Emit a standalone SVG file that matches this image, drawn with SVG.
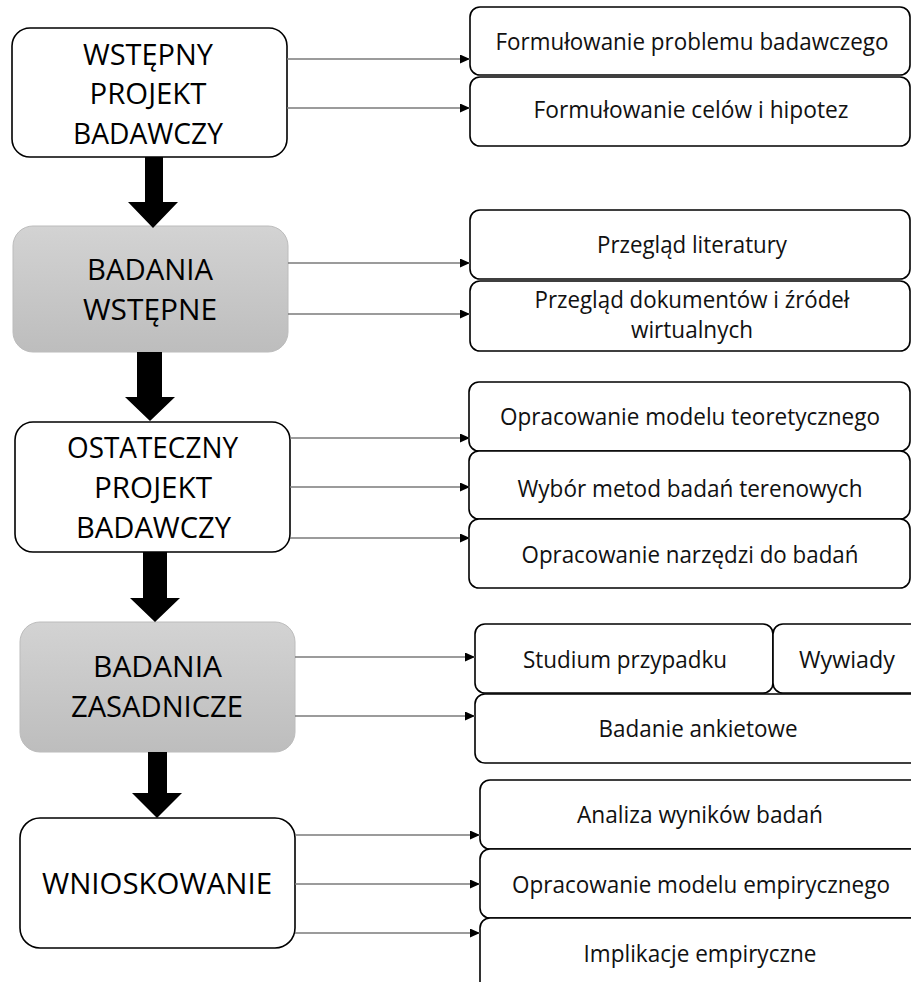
<svg xmlns="http://www.w3.org/2000/svg" width="911" height="982" viewBox="0 0 911 982">
  <defs>
    <linearGradient id="grayFill" x1="0" y1="0" x2="0" y2="1">
      <stop offset="0" stop-color="#d3d3d3"/>
      <stop offset="1" stop-color="#bdbdbd"/>
    </linearGradient>
    <marker id="head" markerUnits="userSpaceOnUse" markerWidth="11" markerHeight="10" refX="10" refY="4.5" orient="auto">
      <path d="M0,0 L10,4.5 L0,9 z" fill="#000"/>
    </marker>
    <style>
      .stage { fill: #fff; stroke: #000; stroke-width: 1.6; }
      .stage-gray { fill: url(#grayFill); stroke: #bcbcbc; stroke-width: 1; }
      .task { fill: #fff; stroke: #000; stroke-width: 1.6; }
      .big { font-family: "Open Sans", Lato, "Liberation Sans", sans-serif; font-size: 30px; fill: #000; text-anchor: middle; }
      .small { font-family: "Open Sans", Lato, "Liberation Sans", sans-serif; font-size: 23px; fill: #111; text-anchor: middle; }
      .link { stroke: #7a7a7a; stroke-width: 1.6; fill: none; marker-end: url(#head); }
      .flow { fill: #000; }
    </style>
  </defs>

  <!-- stages on the left -->
  <g id="stage-wstepny">
    <rect class="stage" x="12" y="28" width="275" height="129" rx="18"/>
    <text class="big" x="148" y="65" textLength="130" lengthAdjust="spacingAndGlyphs">WSTĘPNY</text>
    <text class="big" x="148" y="104" textLength="117" lengthAdjust="spacingAndGlyphs">PROJEKT</text>
    <text class="big" x="148" y="144" textLength="150" lengthAdjust="spacingAndGlyphs">BADAWCZY</text>
  </g>
  <g id="stage-badania-wstepne">
    <rect class="stage-gray" x="13" y="226" width="275" height="126" rx="20"/>
    <text class="big" x="150" y="280" textLength="126" lengthAdjust="spacingAndGlyphs">BADANIA</text>
    <text class="big" x="150" y="320" textLength="134" lengthAdjust="spacingAndGlyphs">WSTĘPNE</text>
  </g>
  <g id="stage-ostateczny">
    <rect class="stage" x="15" y="422" width="275" height="130" rx="18"/>
    <text class="big" x="152.5" y="458" textLength="171" lengthAdjust="spacingAndGlyphs">OSTATECZNY</text>
    <text class="big" x="153" y="498" textLength="118" lengthAdjust="spacingAndGlyphs">PROJEKT</text>
    <text class="big" x="153.5" y="538" textLength="155" lengthAdjust="spacingAndGlyphs">BADAWCZY</text>
  </g>
  <g id="stage-badania-zasadnicze">
    <rect class="stage-gray" x="20" y="622" width="275" height="130" rx="20"/>
    <text class="big" x="157.5" y="677" textLength="129" lengthAdjust="spacingAndGlyphs">BADANIA</text>
    <text class="big" x="157" y="717" textLength="172" lengthAdjust="spacingAndGlyphs">ZASADNICZE</text>
  </g>
  <g id="stage-wnioskowanie">
    <rect class="stage" x="20" y="818" width="275" height="130" rx="20"/>
    <text class="big" x="157" y="894" textLength="230" lengthAdjust="spacingAndGlyphs">WNIOSKOWANIE</text>
  </g>

  <!-- tasks on the right -->
  <g id="task-problem">
    <rect class="task" x="470" y="7" width="440" height="68" rx="10"/>
    <text class="small" x="692" y="50" textLength="393" lengthAdjust="spacingAndGlyphs">Formułowanie problemu badawczego</text>
  </g>
  <g id="task-cele">
    <rect class="task" x="470" y="77" width="440" height="69" rx="10"/>
    <text class="small" x="691" y="118" textLength="315" lengthAdjust="spacingAndGlyphs">Formułowanie celów i hipotez</text>
  </g>
  <g id="task-literatura">
    <rect class="task" x="470" y="210" width="440" height="69" rx="10"/>
    <text class="small" x="692" y="253" textLength="190" lengthAdjust="spacingAndGlyphs">Przegląd literatury</text>
  </g>
  <g id="task-dokumenty">
    <rect class="task" x="470" y="281" width="440" height="70" rx="10"/>
    <text class="small" x="692" y="308" textLength="315" lengthAdjust="spacingAndGlyphs">Przegląd dokumentów i źródeł</text>
    <text class="small" x="692" y="338" textLength="122" lengthAdjust="spacingAndGlyphs">wirtualnych</text>
  </g>
  <g id="task-model-teoretyczny">
    <rect class="task" x="469" y="382" width="441" height="69" rx="10"/>
    <text class="small" x="690" y="425" textLength="380" lengthAdjust="spacingAndGlyphs">Opracowanie modelu teoretycznego</text>
  </g>
  <g id="task-metody">
    <rect class="task" x="469" y="451" width="441" height="68" rx="10"/>
    <text class="small" x="690" y="497" textLength="345" lengthAdjust="spacingAndGlyphs">Wybór metod badań terenowych</text>
  </g>
  <g id="task-narzedzia">
    <rect class="task" x="469" y="519" width="441" height="69" rx="10"/>
    <text class="small" x="690" y="563" textLength="337" lengthAdjust="spacingAndGlyphs">Opracowanie narzędzi do badań</text>
  </g>
  <g id="task-studium">
    <rect class="task" x="475" y="624" width="298" height="69" rx="10"/>
    <text class="small" x="625" y="668" textLength="204" lengthAdjust="spacingAndGlyphs">Studium przypadku</text>
  </g>
  <g id="task-wywiady">
    <rect class="task" x="773" y="624" width="150" height="69" rx="10"/>
    <text class="small" x="847" y="668" textLength="96" lengthAdjust="spacingAndGlyphs">Wywiady</text>
  </g>
  <g id="task-ankieta">
    <rect class="task" x="475" y="694" width="450" height="69" rx="10"/>
    <text class="small" x="698" y="737" textLength="199" lengthAdjust="spacingAndGlyphs">Badanie ankietowe</text>
  </g>
  <g id="task-analiza">
    <rect class="task" x="480" y="780" width="445" height="69" rx="10"/>
    <text class="small" x="700" y="823" textLength="246" lengthAdjust="spacingAndGlyphs">Analiza wyników badań</text>
  </g>
  <g id="task-model-empiryczny">
    <rect class="task" x="480" y="849" width="445" height="69" rx="10"/>
    <text class="small" x="701" y="893" textLength="378" lengthAdjust="spacingAndGlyphs">Opracowanie modelu empirycznego</text>
  </g>
  <g id="task-implikacje">
    <rect class="task" x="480" y="918" width="445" height="80" rx="10"/>
    <text class="small" x="700" y="962" textLength="233" lengthAdjust="spacingAndGlyphs">Implikacje empiryczne</text>
  </g>

  <!-- connectors -->
  <g id="connectors">
    <line class="link" x1="287" y1="59" x2="470" y2="59"/>
    <line class="link" x1="287" y1="108" x2="470" y2="108"/>
    <line class="link" x1="288" y1="263" x2="470" y2="263"/>
    <line class="link" x1="288" y1="314" x2="470" y2="314"/>
    <line class="link" x1="290" y1="438" x2="470" y2="438"/>
    <line class="link" x1="290" y1="487" x2="470" y2="487"/>
    <line class="link" x1="290" y1="538" x2="470" y2="538"/>
    <line class="link" x1="295" y1="657" x2="475" y2="657"/>
    <line class="link" x1="295" y1="716" x2="475" y2="716"/>
    <line class="link" x1="295" y1="835" x2="480" y2="835"/>
    <line class="link" x1="295" y1="884" x2="480" y2="884"/>
    <line class="link" x1="295" y1="933" x2="480" y2="933"/>

    <!-- thick downward flow arrows between stages -->
    <polygon class="flow" points="145,157 163,157 163,202 178,202 153,228 128,202 145,202"/>
    <polygon class="flow" points="137,352 162,352 162,397 175,397 150,421 125,397 137,397"/>
    <polygon class="flow" points="143,552 167,552 167,598 180,598 155,622 130,598 143,598"/>
    <polygon class="flow" points="148,752 167,752 167,793 182,793 157,818 132,793 148,793"/>
  </g>
</svg>
